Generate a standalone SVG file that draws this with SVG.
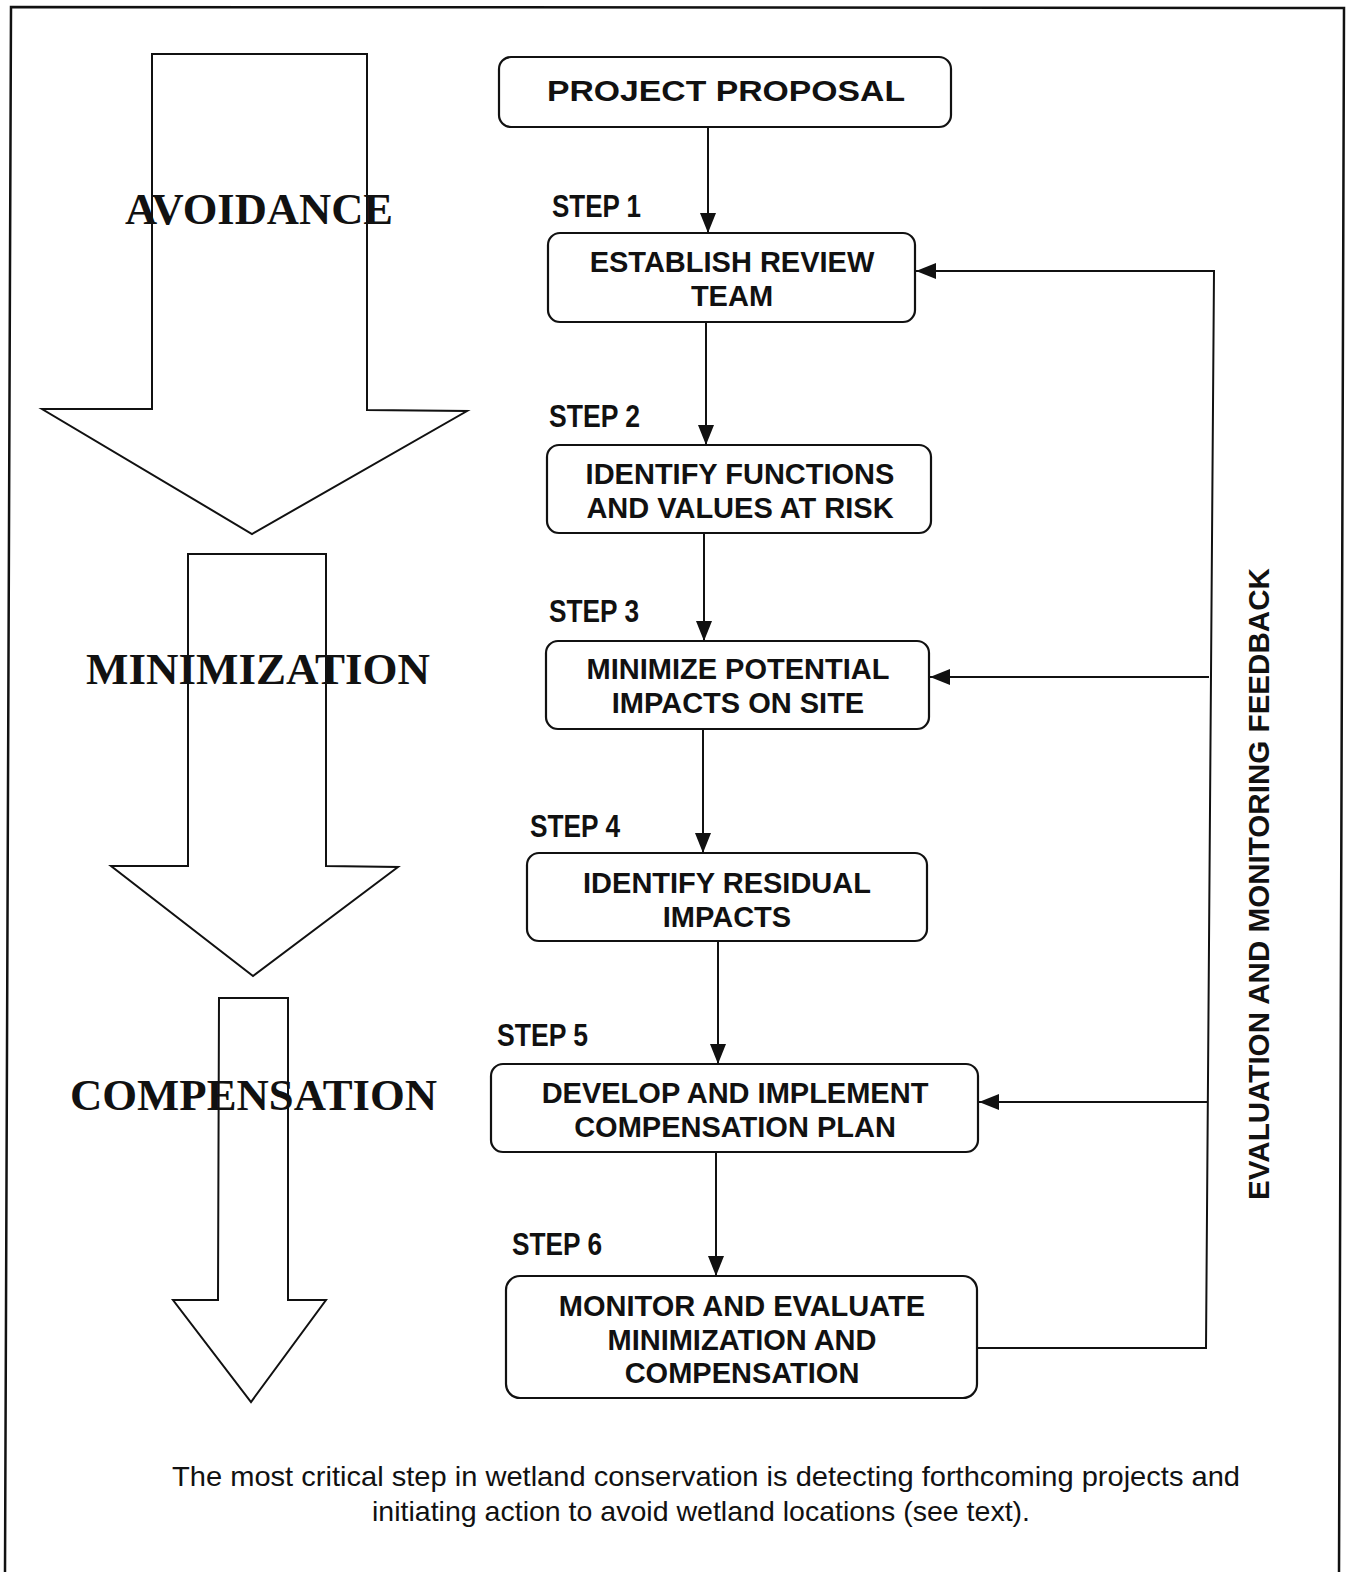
<svg xmlns="http://www.w3.org/2000/svg" width="1349" height="1572" viewBox="0 0 1349 1572">
<defs>
<style>
.box{fill:#fff;stroke:#111;stroke-width:2.2}
.blk{fill:#fff;stroke:#111;stroke-width:2}
.ln{fill:none;stroke:#111;stroke-width:2}
.bt{font-family:"Liberation Sans",Arial,sans-serif;font-weight:bold;font-size:29px;fill:#111;text-anchor:middle}
.st{font-family:"Liberation Sans",Arial,sans-serif;font-weight:bold;font-size:32px;fill:#111}
.big{font-family:"Liberation Serif","Times New Roman",serif;font-weight:bold;font-size:45px;fill:#111}
.cap{font-family:"Liberation Sans",Arial,sans-serif;font-size:28px;fill:#111;text-anchor:middle}
</style>
<marker id="ah" viewBox="0 0 20 16" refX="20" refY="8" markerWidth="20" markerHeight="16" markerUnits="userSpaceOnUse" orient="auto">
<path d="M0,0 L20,8 L0,16 Z" fill="#111"/>
</marker>
</defs>
<rect width="1349" height="1572" fill="#fff"/>
<path d="M5,1572 L11,7 L1344,8 L1339,1572" fill="none" stroke="#111" stroke-width="2.5"/>

<g id="arrow-avoidance">
<polygon class="blk" points="152,54 367,54 367,410 467,411 252,534 42,409 152,409"/>
<text class="big" x="125" y="224" textLength="268" lengthAdjust="spacingAndGlyphs">AVOIDANCE</text>
</g>
<g id="arrow-minimization">
<polygon class="blk" points="188,554 326,554 326,866 398,867 253,976 111,866 188,866"/>
<text class="big" x="86" y="684" textLength="344" lengthAdjust="spacingAndGlyphs">MINIMIZATION</text>
</g>
<g id="arrow-compensation">
<polygon class="blk" points="219,998 288,998 288,1300 326,1300 251,1402 173,1300 218,1300"/>
<text class="big" x="70" y="1110" textLength="367" lengthAdjust="spacingAndGlyphs">COMPENSATION</text>
</g>

<g id="connectors">
<line class="ln" x1="708" y1="127" x2="708" y2="233" marker-end="url(#ah)"/>
<line class="ln" x1="706" y1="322" x2="706" y2="445" marker-end="url(#ah)"/>
<line class="ln" x1="704" y1="533" x2="704" y2="641" marker-end="url(#ah)"/>
<line class="ln" x1="703" y1="729" x2="703" y2="853" marker-end="url(#ah)"/>
<line class="ln" x1="718" y1="941" x2="718" y2="1064" marker-end="url(#ah)"/>
<line class="ln" x1="716" y1="1152" x2="716" y2="1276" marker-end="url(#ah)"/>
<polyline class="ln" points="977,1348 1206,1348 1214,271 916,271" marker-end="url(#ah)"/>
<line class="ln" x1="1209" y1="677" x2="930" y2="677" marker-end="url(#ah)"/>
<line class="ln" x1="1207" y1="1102" x2="979" y2="1102" marker-end="url(#ah)"/>
<text class="bt" transform="translate(1269,884) rotate(-90)" textLength="632" lengthAdjust="spacingAndGlyphs">EVALUATION AND MONITORING FEEDBACK</text>
</g>

<g id="project-proposal">
<rect class="box" x="499" y="57" width="452" height="70" rx="12"/>
<text class="bt" x="726" y="101" font-size="33" textLength="358" lengthAdjust="spacingAndGlyphs">PROJECT PROPOSAL</text>
</g>

<g id="step1">
<text class="st" x="552" y="217" textLength="89" lengthAdjust="spacingAndGlyphs">STEP 1</text>
<rect class="box" x="548" y="233" width="367" height="89" rx="12"/>
<text class="bt" x="732" y="272">ESTABLISH REVIEW</text>
<text class="bt" x="732" y="306">TEAM</text>
</g>

<g id="step2">
<text class="st" x="549" y="427" textLength="91" lengthAdjust="spacingAndGlyphs">STEP 2</text>
<rect class="box" x="547" y="445" width="384" height="88" rx="12"/>
<text class="bt" x="740" y="484">IDENTIFY FUNCTIONS</text>
<text class="bt" x="740" y="518">AND VALUES AT RISK</text>
</g>

<g id="step3">
<text class="st" x="549" y="622" textLength="90" lengthAdjust="spacingAndGlyphs">STEP 3</text>
<rect class="box" x="546" y="641" width="383" height="88" rx="12"/>
<text class="bt" x="738" y="679">MINIMIZE POTENTIAL</text>
<text class="bt" x="738" y="713">IMPACTS ON SITE</text>
</g>

<g id="step4">
<text class="st" x="530" y="837" textLength="90" lengthAdjust="spacingAndGlyphs">STEP 4</text>
<rect class="box" x="527" y="853" width="400" height="88" rx="12"/>
<text class="bt" x="727" y="893">IDENTIFY RESIDUAL</text>
<text class="bt" x="727" y="927">IMPACTS</text>
</g>

<g id="step5">
<text class="st" x="497" y="1046" textLength="91" lengthAdjust="spacingAndGlyphs">STEP 5</text>
<rect class="box" x="491" y="1064" width="487" height="88" rx="12"/>
<text class="bt" x="735" y="1103">DEVELOP AND IMPLEMENT</text>
<text class="bt" x="735" y="1137">COMPENSATION PLAN</text>
</g>

<g id="step6">
<text class="st" x="512" y="1255" textLength="90" lengthAdjust="spacingAndGlyphs">STEP 6</text>
<rect class="box" x="506" y="1276" width="471" height="122" rx="14"/>
<text class="bt" x="742" y="1316">MONITOR AND EVALUATE</text>
<text class="bt" x="742" y="1350">MINIMIZATION AND</text>
<text class="bt" x="742" y="1383">COMPENSATION</text>
</g>

<g id="caption">
<text class="cap" x="706" y="1486" textLength="1068" lengthAdjust="spacingAndGlyphs">The most critical step in wetland conservation is detecting forthcoming projects and</text>
<text class="cap" x="701" y="1521" textLength="658" lengthAdjust="spacingAndGlyphs">initiating action to avoid wetland locations (see text).</text>
</g>
</svg>
